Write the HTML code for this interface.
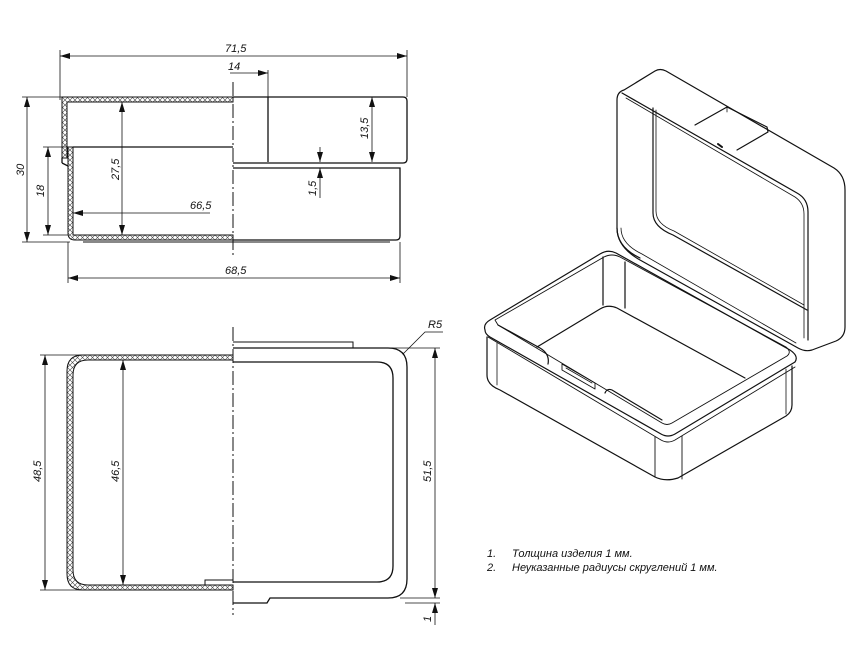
<!DOCTYPE html>
<html><head><meta charset="utf-8"><style>
html,body{margin:0;padding:0;background:#fff;}
svg{display:block;}
text{font-family:"Liberation Sans","DejaVu Sans",sans-serif;font-style:italic;font-size:11px;fill:#111;}
</style></head><body>
<svg width="866" height="650" viewBox="0 0 866 650" xmlns="http://www.w3.org/2000/svg">
<defs>
<pattern id="h" width="5" height="5" patternUnits="userSpaceOnUse">
<path d="M0,0L5,5M5,0L0,5" stroke="#444" stroke-width="0.6"/>
</pattern>
<marker id="a" viewBox="0 0 10 6" refX="10" refY="3" markerWidth="10" markerHeight="6" orient="auto-start-reverse" markerUnits="userSpaceOnUse">
<path d="M0,0L10,3L0,6Z" fill="#111"/></marker>
</defs>
<g fill="none" stroke="#111" stroke-width="1.3">
<path d="M62,97H233V102H67V158H62Z" fill="url(#h)" stroke-width="1"/>
<path d="M68,147H73V235H233V240H75Q68,240 68,233Z" fill="url(#h)" stroke-width="1"/>
<line x1="62" y1="158" x2="62" y2="163"/>
<line x1="62" y1="163" x2="68" y2="166"/>
<line x1="73" y1="147" x2="233" y2="147"/>
<path d="M233,97H403Q407,97 407,101V159Q407,163 403,163H233"/>
<line x1="268" y1="97" x2="268" y2="162"/>
<path d="M233,168H400V236Q400,240 396,240H233"/>
<line x1="83" y1="242" x2="390" y2="242" stroke-width="1"/>
<line x1="233" y1="82" x2="233" y2="255" stroke-width="1" stroke-dasharray="14,3,2,3"/>
</g>
<g stroke="#111" stroke-width="0.8" fill="none">
<line x1="60" y1="50" x2="60" y2="100"/><line x1="407" y1="50" x2="407" y2="97"/>
<line x1="60" y1="56" x2="407" y2="56" marker-start="url(#a)" marker-end="url(#a)"/>
<line x1="268" y1="70" x2="268" y2="97"/>
<line x1="230" y1="73" x2="268" y2="73" marker-end="url(#a)"/>
<line x1="22" y1="97" x2="62" y2="97"/><line x1="22" y1="242" x2="70" y2="242"/>
<line x1="27" y1="97" x2="27" y2="242" marker-start="url(#a)" marker-end="url(#a)"/>
<line x1="43" y1="147" x2="68" y2="147"/><line x1="43" y1="235" x2="68" y2="235"/>
<line x1="48" y1="147" x2="48" y2="235" marker-start="url(#a)" marker-end="url(#a)"/>
<line x1="122" y1="102" x2="122" y2="235" marker-start="url(#a)" marker-end="url(#a)"/>
<line x1="210" y1="213" x2="73" y2="213" marker-end="url(#a)"/>
<line x1="372" y1="97" x2="372" y2="162" marker-start="url(#a)" marker-end="url(#a)"/>
<line x1="320" y1="147" x2="320" y2="162" marker-end="url(#a)"/>
<line x1="320" y1="198" x2="320" y2="168" marker-end="url(#a)"/>
<line x1="68" y1="242" x2="68" y2="283"/><line x1="400" y1="242" x2="400" y2="283"/>
<line x1="68" y1="278" x2="400" y2="278" marker-start="url(#a)" marker-end="url(#a)"/>
</g>
<text x="225" y="52">71,5</text>
<text x="228" y="70">14</text>
<text x="190" y="209">66,5</text>
<text x="225" y="274">68,5</text>
<text transform="translate(24,176) rotate(-90)">30</text>
<text transform="translate(44,197) rotate(-90)">18</text>
<text transform="translate(119,180) rotate(-90)">27,5</text>
<text transform="translate(368,139) rotate(-90)">13,5</text>
<text transform="translate(316,196) rotate(-90)">1,5</text>

<g fill="none" stroke="#111" stroke-width="1.3">
<path d="M233,355H83Q67,355 67,371V574Q67,590 83,590H233V585H88Q73,585 73,570V375Q73,360 88,360H233Z" fill="url(#h)" stroke-width="1"/>
<path d="M205,585V580H233" stroke-width="1"/>
<path d="M233,348H388Q407,348 407,367V579Q407,598 388,598H270L267,603H233"/>
<path d="M233,362H377Q393,362 393,378V566Q393,582 377,582H233"/>
<path d="M233,342H353V348" stroke-width="1"/>
<line x1="233" y1="327" x2="233" y2="615" stroke-width="1" stroke-dasharray="14,3,2,3"/>
</g>
<g stroke="#111" stroke-width="0.8" fill="none">
<line x1="40" y1="355" x2="85" y2="355"/><line x1="40" y1="590" x2="85" y2="590"/>
<line x1="45" y1="355" x2="45" y2="590" marker-start="url(#a)" marker-end="url(#a)"/>
<line x1="123" y1="360" x2="123" y2="585" marker-start="url(#a)" marker-end="url(#a)"/>
<line x1="390" y1="348" x2="440" y2="348"/><line x1="400" y1="598" x2="440" y2="598"/><line x1="405" y1="603" x2="440" y2="603"/>
<line x1="435" y1="348" x2="435" y2="598" marker-start="url(#a)" marker-end="url(#a)"/>
<line x1="435" y1="625" x2="435" y2="603" marker-end="url(#a)"/>
<polyline points="403,354 425,332 443,332"/>
</g>
<text transform="translate(41,482) rotate(-90)">48,5</text>
<text transform="translate(119,482) rotate(-90)">46,5</text>
<text transform="translate(431,482) rotate(-90)">51,5</text>
<text transform="translate(431,622) rotate(-90)">1</text>
<text x="428" y="328">R5</text>

<!-- ISOMETRIC -->
<g fill="none" stroke="#111" stroke-width="1.2" stroke-linejoin="round" stroke-linecap="round">
<!-- lid outer silhouette -->
<path d="M617,100Q617,92 624,90L655,71Q660,68 666,71L834,168Q845,175 845,190V327Q845,337 836,341L812,350Q805,352 798,348L640,260Q617,247 617,228Z"/>
<!-- front frame top edge (double) -->
<path d="M622,93L797,193Q808,199 808,212V340"/>
<path d="M626,98L795,197Q804,203 804,214V338" stroke-width="0.8"/>
<path d="M617,228Q617,247 640,258" />
<path d="M621,228Q621,244 642,254L796,343" stroke-width="0.8"/>
<!-- inner opening -->
<path d="M653,108V213Q653,227 673,235L807,310"/>
<path d="M656,110V211Q656,224 674,231L804,305" stroke-width="0.8"/>
<!-- hinge -->
<path d="M695,125L727,107L767,127L768,132L737,150"/>
<line x1="727" y1="107" x2="727" y2="112" stroke-width="0.8"/>
<path d="M718,144L722,147" stroke-width="2"/>

<!-- base rim -->
<path d="M485,330Q483,324 490,320L600,254Q608,249 616,253L790,350Q799,356 795,362L675,434Q668,438 661,434L490,337Q485,334 485,330Z"/>
<path d="M488,337L661,440Q668,444 675,440L795,367" stroke-width="0.9"/>
<path d="M495,320L604,257Q612,253 620,257L786,347Q792,352 787,356L672,423Q667,426 662,423L498,325Z" stroke-width="0.9"/>
<!-- body -->
<path d="M487,337V375Q487,385 500,390L655,477Q665,482 678,478L786,416Q792,412 792,405V366"/>
<line x1="655" y1="437" x2="655" y2="477" stroke-width="0.9"/>
<line x1="682" y1="436" x2="682" y2="479" stroke-width="0.9"/>
<line x1="497" y1="343" x2="497" y2="385" stroke-width="0.8"/>
<line x1="786" y1="369" x2="786" y2="414" stroke-width="0.8"/>
<!-- interior -->
<line x1="603" y1="257" x2="603" y2="305"/>
<line x1="625" y1="262" x2="625" y2="308"/>
<path d="M537,347L600,309Q608,304 617,308L745,378"/>
<path d="M498,325L540,348Q550,354 548,364"/>
<path d="M562,364V370L595,389V383L562,364Z" stroke-width="0.9"/>
<path d="M566,368L592,383" stroke-width="0.8"/>
<path d="M605,393Q607,388 612,390L662,420"/>
</g>
<text x="487" y="557">1.</text><text x="512" y="557">Толщина изделия 1 мм.</text>
<text x="487" y="571">2.</text><text x="512" y="571">Неуказанные радиусы скруглений 1 мм.</text>
</svg>
</body></html>
